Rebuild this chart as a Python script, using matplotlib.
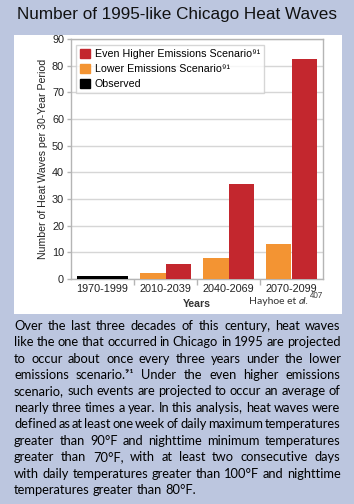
import matplotlib
matplotlib.use("Agg")
import matplotlib.pyplot as plt
from matplotlib.patches import Rectangle

# ---- data ----
categories = ["1970-1999", "2010-2039", "2040-2069", "2070-2099"]
observed = [1.0, None, None, None]
lower = [None, 2.4, 7.7, 13.0]
higher = [None, 5.8, 35.5, 82.5]
yticks = [0, 10, 20, 30, 40, 50, 60, 70, 80, 90]

title = "Number of 1995-like Chicago Heat Waves"
ylabel = "Number of Heat Waves per 30-Year Period"
xlabel = "Years"
legend_labels = ["Even Higher Emissions Scenario\u2079\u00b9",
                 "Lower Emissions Scenario\u2079\u00b9",
                 "Observed"]
body_lines = [
    "Over the last three decades of this century, heat waves",
    "like the one that occurred in Chicago in 1995 are projected",
    "to occur about once every three years under the lower",
    "emissions scenario.\u2079\u00b9 Under the even higher emissions",
    "scenario, such events are projected to occur an average of",
    "nearly three times a year. In this analysis, heat waves were",
    "defined as at least one week of daily maximum temperatures",
    "greater than 90\u00b0F and nighttime minimum temperatures",
    "greater than 70\u00b0F, with at least two consecutive days",
    "with daily temperatures greater than 100\u00b0F and nighttime",
    "temperatures greater than 80\u00b0F.",
]

RED = "#c3272e"
ORANGE = "#f39433"
BG = "#bcc6df"
GRAY = "#b5b5b5"
W, H = 354, 504

plt.rcParams['font.family'] = ['Liberation Sans', 'DejaVu Sans']

fig = plt.figure(figsize=(W / 100, H / 100), dpi=100, facecolor=BG)

# white panel
panel = Rectangle((14 / W, 1 - 314 / H), (342 - 14) / W, (314 - 35) / H,
                  transform=fig.transFigure, facecolor="white",
                  edgecolor="none", zorder=-10)
fig.add_artist(panel)

fig.text(177 / W, 1 - 14 / H, title, ha="center", va="center", fontsize=12.3,
         color="#111111")

ax = fig.add_axes([71 / W, 1 - 279 / H, (323 - 71) / W, (279 - 39) / H])
ax.set_facecolor("none")
x = list(range(len(categories)))
bw = 0.41
for i in x:
    if observed[i] is not None:
        ax.bar(i, observed[i], width=0.81, color="black", zorder=3)
    if lower[i] is not None:
        ax.bar(i - bw / 2, lower[i], width=bw, color=ORANGE, zorder=3)
    if higher[i] is not None:
        ax.bar(i + bw / 2, higher[i], width=bw, color=RED, zorder=3)

ax.set_xlim(-0.5, 3.5)
ax.set_ylim(0, 90)
ax.set_yticks(yticks)
ax.set_yticklabels([str(v) for v in yticks], fontsize=7.8, color="#222222")
ax.set_xticks(x)
ax.set_xticklabels(categories, fontsize=7.8, color="#222222")
ax.tick_params(axis="x", which="major", length=0, pad=3.5)
ax.set_xticks([0.5, 1.5, 2.5], minor=True)
ax.tick_params(axis="x", which="minor", length=4, color=GRAY, width=1)
ax.tick_params(axis="y", length=3, color=GRAY, width=1, pad=2)
ax.grid(axis="y", color="#d6d6d6", linewidth=1, zorder=0)
for s in ax.spines.values():
    s.set_color(GRAY)
    s.set_linewidth(1)

ax.set_ylabel(ylabel, fontsize=7.6, color="#222222", labelpad=3)
fig.text(197 / W, 1 - 304 / H, xlabel, ha="center", va="center", fontsize=7.6,
         fontweight="bold", color="#333333")

handles = [Rectangle((0, 0), 1, 1, color=RED), Rectangle((0, 0), 1, 1, color=ORANGE),
           Rectangle((0, 0), 1, 1, color="black")]
leg = ax.legend(handles, legend_labels, loc="upper left", bbox_to_anchor=(0.01, 0.985),
                fontsize=7.7, frameon=True, fancybox=False, edgecolor="#cccccc",
                handlelength=0.9, handleheight=0.9, handletextpad=0.5,
                labelspacing=0.45, borderpad=0.4, borderaxespad=0.2)
leg.get_frame().set_linewidth(1)

# citation
renderer = fig.canvas.get_renderer()
cy = 301
t1 = fig.text(249 / W, 1 - cy / H, "Hayhoe et ", fontsize=7.5,
              family=['Lato', 'DejaVu Sans'], color="#333333", va="center", ha="left")
x1 = 249 + t1.get_window_extent(renderer).width
t2 = fig.text(x1 / W, 1 - cy / H, "al.", fontsize=7.5, style="italic",
              family=['Lato', 'DejaVu Sans'], color="#333333", va="center", ha="left")
x2 = x1 + t2.get_window_extent(renderer).width + 1.5
fig.text(x2 / W, 1 - (cy - 5) / H, "407", fontsize=5.5, family=['Lato', 'DejaVu Sans'],
         color="#333333", va="center", ha="left")

# justified body text
body_font = dict(fontsize=9.3, family=['Lato', 'DejaVu Sans'], color="black")
left_px, right_px = 14.0, 340.5
y0, dy = 325.7, 16.43
for li, line in enumerate(body_lines):
    yy = 1 - (y0 + li * dy) / H
    words = line.split(" ")
    texts = [fig.text(0, yy, w, va="center", ha="left", **body_font) for w in words]
    widths = [t.get_window_extent(renderer).width for t in texts]
    if li < len(body_lines) - 1 and len(words) > 1:
        gap = (right_px - left_px - sum(widths)) / (len(words) - 1)
    else:
        sp = fig.text(0, 0, "a a", **body_font)
        sp2 = fig.text(0, 0, "aa", **body_font)
        gap = sp.get_window_extent(renderer).width - sp2.get_window_extent(renderer).width
        sp.remove(); sp2.remove()
    cx = left_px
    for t, w in zip(texts, widths):
        t.set_x(cx / W)
        cx += w + gap

fig.savefig("out.png", dpi=100, facecolor=BG)
